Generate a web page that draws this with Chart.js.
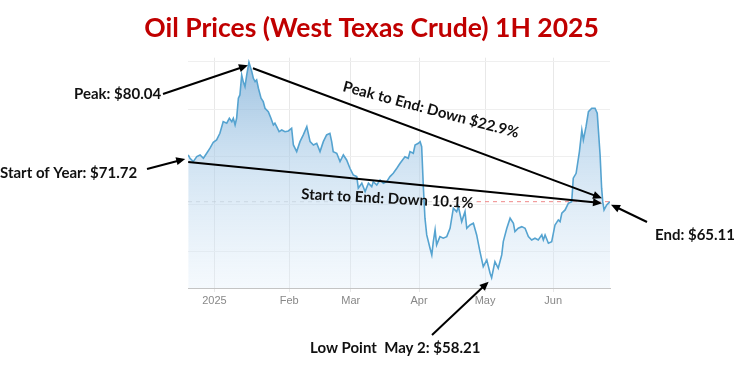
<!DOCTYPE html>
<html>
<head>
<meta charset="utf-8">
<script src="https://cdn.jsdelivr.net/npm/chart.js@4.4.1/dist/chart.umd.min.js"></script>
<style>
  body { margin: 0; background: #fff; }
  #wrap { width: 743px; height: 374px; }
</style>
</head>
<body>
<div id="wrap"><canvas id="canvas" width="743" height="374"></canvas></div>
<script>
// day of year (negative = late Dec 2024), WTI close
var days = [
  -14.9, -14.1, -12.6, -11.0, -9.5, -8.0, -6.5, -5.0, -3.5, -2.0,
  -0.5, 1.0, 2.6, 3.8, 4.9, 5.6, 6.4, 7.1, 7.9, 8.6,
  9.4, 10.1, 10.9, 11.7, 12.7, 14.0, 14.7, 15.5, 16.2, 17.0,
  18.2, 19.2, 20.0, 21.5, 22.7, 23.8, 24.5, 25.3, 26.4, 27.6,
  29.1, 30.6, 32.1, 32.9, 34.4, 35.9, 37.4, 39.0, 40.5,
  42.0, 43.5, 45.0, 46.5, 48.0, 49.5, 50.3, 51.0, 52.6, 54.1,
  55.6, 57.1, 58.6, 60.1, 61.7, 62.4, 64.0, 65.5, 67.0, 68.5,
  69.2, 70.8, 72.3, 73.8, 75.3, 76.8, 78.3, 79.9, 81.4, 83.6,
  85.1, 85.9, 87.4, 88.2, 89.7, 90.5, 91.2, 92.0, 92.7, 93.5,
  95.0, 95.8, 96.5, 97.3, 98.0, 99.5, 101.0, 102.6, 104.1, 105.6,
  107.1, 107.9, 109.4, 110.9, 111.7, 113.2, 114.7, 116.2, 117.7, 119.2,
  120.8, 122.3, 123.0, 124.5, 126.0, 127.6, 128.3, 129.9, 131.4, 132.9,
  133.6, 135.1, 136.7, 138.2, 139.7, 141.2, 142.7, 144.2, 145.8, 146.5,
  147.3, 148.8, 150.3, 151.8, 153.3, 154.1, 154.9, 156.4, 157.9, 159.4,
  160.1, 161.4, 162.9, 164.0, 164.7, 165.9, 167.0, 168.5, 170.0, 171.0,
  172.3, 173.0, 173.5, 174.1, 175.3, 176.8
];
var prices = [
  70.21, 69.86, 69.51, 70.03, 70.21, 69.86, 70.39, 70.92, 71.55, 71.79,
  72.49, 73.72, 73.55, 74.07, 73.72, 74.07, 73.37, 74.07, 76.18, 76.53,
  78.63, 77.93, 77.40, 78.63, 79.97, 78.98, 78.28, 77.93, 78.11, 77.23,
  76.18, 75.82, 75.13, 74.77, 74.07, 73.37, 73.55, 73.19, 72.66, 72.84,
  72.66, 72.74, 73.02, 71.26, 70.56, 71.61, 72.32, 73.19, 71.61,
  71.26, 71.44, 70.56, 71.61, 72.32, 72.49, 71.61, 70.56, 70.39, 69.51,
  70.21, 69.68, 68.81, 68.11, 67.93, 66.71, 67.23, 66.35, 67.23, 66.87,
  67.40, 67.05, 67.58, 67.23, 67.40, 67.93, 68.28, 68.81, 69.34, 70.03,
  69.86, 70.56, 70.39, 71.26, 71.44, 71.61, 71.08, 66.71, 63.55, 61.79,
  60.39, 59.68, 61.08, 62.32, 60.74, 61.61, 61.44, 61.61, 62.49, 64.60,
  64.24, 64.77, 63.19, 64.24, 62.49, 62.84, 63.02, 61.79, 60.03, 58.45,
  59.16, 57.76, 57.29, 58.98, 58.28, 59.68, 61.08, 62.49, 63.55, 63.02,
  62.14, 62.49, 62.66, 62.49, 61.61, 61.26, 61.44, 61.26, 61.79, 61.26,
  61.79, 60.92, 61.08, 62.84, 63.37, 63.19, 64.07, 64.42, 65.13, 65.29,
  67.76, 68.28, 70.56, 72.84, 71.79, 73.19, 74.77, 75.13, 75.13, 74.60,
  70.21, 66.71, 65.29, 64.42, 64.95, 65.29
];
var xTickPos = [-3, 31, 59, 90, 120, 151];
var xTickLabels = ['2025', 'Feb', 'Mar', 'Apr', 'May', 'Jun'];
var yGrid = [60, 65, 70, 75, 80];

var titleText = 'Oil Prices (West Texas Crude) 1H 2025';
var peakText = 'Peak: $80.04';
var startText = 'Start of Year: $71.72';
var endText = 'End: $65.11';
var lowText = 'Low Point  May 2: $58.21';
var peakToEndText = 'Peak to End: Down $22.9%';
var startToEndText = 'Start to End: Down 10.1%';

var points = days.map(function(d, i){
    return {x: d, y: prices[i]};
});

function arrow(c, x1, y1, x2, y2){
    var a = Math.atan2(y2 - y1, x2 - x1);
    c.beginPath();
    c.moveTo(x1, y1);
    c.lineTo(x2 - 6 * Math.cos(a), y2 - 6 * Math.sin(a));
    c.stroke();
    c.beginPath();
    c.moveTo(x2, y2);
    c.lineTo(x2 - 9 * Math.cos(a) + 4 * Math.sin(a), y2 - 9 * Math.sin(a) - 4 * Math.cos(a));
    c.lineTo(x2 - 9 * Math.cos(a) - 4 * Math.sin(a), y2 - 9 * Math.sin(a) + 4 * Math.cos(a));
    c.closePath();
    c.fill();
}

function rotatedText(c, txt, x, y, deg){
    c.save();
    c.translate(x, y);
    c.rotate(deg * Math.PI / 180);
    c.fillText(txt, 0, 0);
    c.restore();
}

// arrows + callouts
const annotate = {
    id: 'annotate',
    beforeDatasetsDraw(chart){
        const c = chart.ctx, ys = chart.scales.y, area = chart.chartArea;
        const endY = ys.getPixelForValue(prices[prices.length - 1]);
        c.save();
        c.lineWidth = 1;
        c.setLineDash([4, 4]);
        c.strokeStyle = 'rgba(170,170,170,0.45)';
        c.beginPath(); c.moveTo(area.left, endY); c.lineTo(477, endY); c.stroke();
        c.strokeStyle = '#f08a8a';
        c.beginPath(); c.moveTo(477, endY); c.lineTo(area.right, endY); c.stroke();
        c.restore();
    },
    afterDatasetsDraw(chart){
        const c = chart.ctx, xs = chart.scales.x, ys = chart.scales.y;
        var peakIdx = prices.indexOf(Math.max.apply(null, prices));
        var lowIdx = prices.indexOf(Math.min.apply(null, prices));
        var last = prices.length - 1;
        function px(i){ return {x: xs.getPixelForValue(days[i]), y: ys.getPixelForValue(prices[i])}; }
        var peak = px(peakIdx), low = px(lowIdx), start = px(0), end = px(last);

        c.save();
        c.strokeStyle = '#000';
        c.fillStyle = '#000';
        c.lineWidth = 2;
        arrow(c, 163, 94, peak.x - 1, peak.y + 3);
        arrow(c, 147, 169, start.x - 3, start.y + 4);
        arrow(c, peak.x + 4, peak.y + 6, end.x - 8, end.y - 3.5);
        arrow(c, start.x, start.y + 7, end.x - 8, end.y + 1.5);
        arrow(c, 647, 222, end.x + 1, end.y + 3);
        arrow(c, 432, 335, low.x - 3, low.y + 4);

        c.fillStyle = '#111';
        c.font = 'bold 15px Lato';
        c.textBaseline = 'alphabetic';
        c.fillText(peakText, 74, 99);
        c.fillText(startText, 0, 178);
        c.fillText(endText, 655, 240);
        c.fillText(lowText, 310, 353);
        rotatedText(c, peakToEndText, 342, 91, 15);
        rotatedText(c, startToEndText, 301, 199, 3);
        c.restore();
    }
};

const ctx = document.getElementById('canvas').getContext('2d');
const myChart = new Chart(ctx, {
    type: 'line',
    data: {
        datasets: [{
            data: points,
            borderColor: '#55a3d0',
            borderWidth: 1.6,
            pointRadius: 0,
            tension: 0,
            fill: 'start',
            backgroundColor: function(context){
                const area = context.chart.chartArea;
                if (!area) return 'rgba(150,190,225,0.5)';
                const g = context.chart.ctx.createLinearGradient(0, area.top, 0, area.bottom);
                g.addColorStop(0, 'rgba(120,170,212,0.75)');
                g.addColorStop(0.45, 'rgba(170,204,232,0.55)');
                g.addColorStop(1, 'rgba(225,238,250,0.35)');
                return g;
            }
        }]
    },
    options: {
        responsive: false,
        animation: false,
        layout: { padding: { top: 0, left: 0, right: 0, bottom: 56 } },
        plugins: {
            legend: { display: false },
            tooltip: { enabled: false },
            title: {
                display: true,
                text: titleText,
                color: '#c00000',
                font: { family: 'Lato', size: 26.5, weight: 'bold' },
                padding: { top: 13, bottom: 12.9 }
            }
        },
        scales: {
            x: {
                type: 'linear',
                min: -15,
                max: 176.8,
                afterBuildTicks: function(scale){
                    scale.ticks = xTickPos.map(function(v){ return {value: v}; });
                },
                afterFit: function(scale){ scale.height = 30; },
                ticks: {
                    color: '#888',
                    font: { family: 'Liberation Sans', size: 11 },
                    padding: 2,
                    maxRotation: 0,
                    callback: function(value, index){ return xTickLabels[index]; }
                },
                grid: { color: '#e8e8e8', tickLength: 4 },
                border: { color: '#c4c4c4' }
            },
            y: {
                type: 'linear',
                min: 56.2,
                max: 80.45,
                afterBuildTicks: function(scale){
                    scale.ticks = yGrid.map(function(v){ return {value: v}; });
                },
                afterFit: function(scale){ scale.width = 188; },
                ticks: { display: false },
                grid: { color: '#efefef', drawTicks: false },
                border: { display: false }
            },
            y2: {
                type: 'linear',
                position: 'right',
                afterFit: function(scale){ scale.width = 133; },
                ticks: { display: false },
                grid: { display: false, drawTicks: false },
                border: { display: false }
            }
        }
    },
    plugins: [annotate]
});
</script>
</body>
</html>
